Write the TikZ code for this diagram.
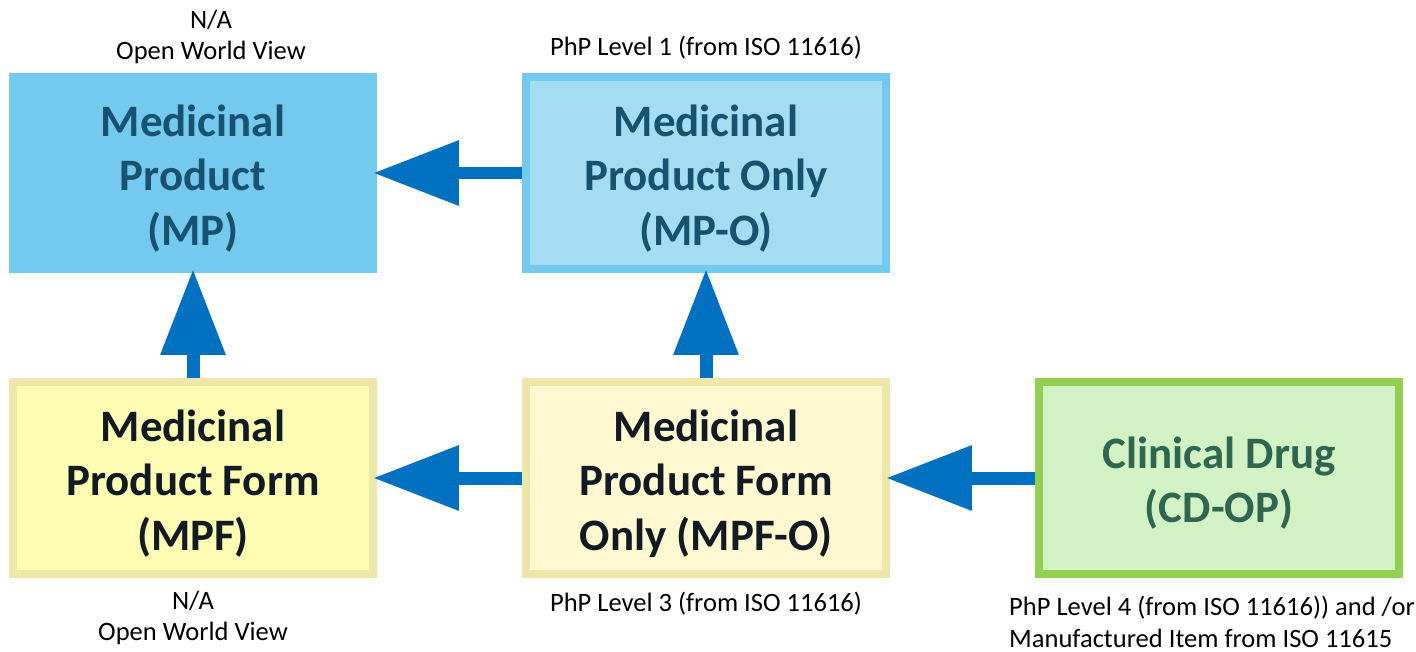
\documentclass[tikz,border=0pt]{standalone}
\usepackage{fontspec}
\setmainfont{Carlito}
\usetikzlibrary{arrows.meta}
\definecolor{mpfill}{HTML}{74C9EE}
\definecolor{mpofill}{HTML}{A4DDF2}
\definecolor{mptext}{HTML}{17536F}
\definecolor{mpffill}{HTML}{FFFCB4}
\definecolor{mpfofill}{HTML}{FFF8D0}
\definecolor{formline}{HTML}{EDE7A9}
\definecolor{formtext}{HTML}{121A24}
\definecolor{cdfill}{HTML}{D2F2C6}
\definecolor{cdline}{HTML}{92D050}
\definecolor{cdtext}{HTML}{2E6650}
\definecolor{arrowblue}{HTML}{0070C0}
\def\boxlift{\rule{0pt}{24pt}}
\tikzset{
  box/.style={rectangle, line width=0.16cm, minimum width=7.2cm, minimum height=3.84cm, align=center, font=\fontsize{25.6}{31}\selectfont\bfseries},
  fat/.style={line width=0.26cm, color=arrowblue, shorten >=-0.08cm, -{Triangle[length=1.72cm, width=1.24cm]}},
  note/.style={align=center, font=\fontsize{15.1}{18}\selectfont}
}

\begin{document}
\begin{tikzpicture}[x=0.02cm, y=-0.02cm]
		%%%%% START %%%%%
		
		\useasboundingbox (0, 0) rectangle (1416, 652);
		
		\node[box, fill=mpfill, draw=mpfill, text=mptext] (mp) at (193, 173) {\boxlift Medicinal\\Product\\(MP)};
		\node[box, fill=mpofill, draw=mpfill, text=mptext] (mpo) at (706, 173) {\boxlift Medicinal\\Product Only\\(MP-O)};
		\node[box, fill=mpffill, draw=formline, text=formtext] (mpf) at (193, 478) {\boxlift Medicinal\\Product Form\\(MPF)};
		\node[box, fill=mpfofill, draw=formline, text=formtext] (mpfo) at (706, 478) {\boxlift Medicinal\\Product Form\\Only (MPF-O)};
		\node[box, fill=cdfill, draw=cdline, text=cdtext] (cd) at (1219, 478) {\boxlift Clinical Drug\\(CD-OP)};
		
		\node[note] (mpnote) at (211, 37) {N/A\\Open World View};
		\node[note] (mponote) at (706, 48) {PhP Level 1 (from ISO 11616)};
		\node[note] (mpfnote) at (193, 618) {N/A\\Open World View};
		\node[note] (mpfonote) at (706, 604) {PhP Level 3 (from ISO 11616)};
		\node[note, align=left, anchor=west] (cdnote) at (1003, 622) {PhP Level 4 (from ISO 11616)) and /or\\Manufactured Item from ISO 11615};
		
		\draw[fat] (mpo) -- (mp);
		\draw[fat] (mpf) -- (mp);
		\draw[fat] (mpfo) -- (mpo);
		\draw[fat] (mpfo) -- (mpf);
		\draw[fat] (cd) -- (mpfo);
		
		%%%%% END %%%%%
\end{tikzpicture}
\end{document}
